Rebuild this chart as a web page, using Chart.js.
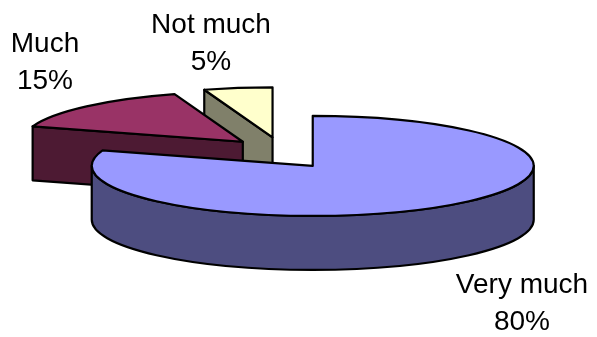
<!DOCTYPE html>
<html>
<head>
<meta charset="utf-8">
<script src="https://cdn.jsdelivr.net/npm/chart.js@4.4.0/dist/chart.umd.min.js"></script>
<style>
  html, body { margin: 0; padding: 0; background: #fff; }
  #pie { display: block; }
</style>
</head>
<body>
<canvas id="pie" width="597" height="337"></canvas>
<script>
// categories + values (percent)
var labels = ["Very much", "Much", "Not much"];
var values = [80, 15, 5];

// colours: top face / side face
var topColors = ["#9999FF", "#993366", "#FFFFCC"];
var sideColors = ["#4D4D80", "#4D1A33", "#80806A"];

// 3d look
var RX = 221, RY = 50, DEPTH = 54;
// where the text of each label sits (center x, first baseline)
var labelPos = [[522, 293], [45, 52], [211, 33]];

function onEllipse(cx, cy, a) {
  return [cx + RX * Math.cos(a), cy + RY * Math.sin(a)];
}

function drawSlice(ctx, s) {
  var cx = s.cx, cy = s.cy;
  // flat side faces (only the ones turned to us)
  [[s.a1, -Math.cos(s.a1)], [s.a2, Math.cos(s.a2)]].forEach(function(f) {
    if (f[1] <= 0.01) return;
    var p = onEllipse(cx, cy, f[0]);
    ctx.beginPath();
    ctx.moveTo(cx, cy);
    ctx.lineTo(p[0], p[1]);
    ctx.lineTo(p[0], p[1] + DEPTH);
    ctx.lineTo(cx, cy + DEPTH);
    ctx.closePath();
    ctx.fillStyle = sideColors[s.i];
    ctx.fill();
    ctx.stroke();
  });
  // round outer side, front half only
  var lo = Math.max(s.a1, 0), hi = Math.min(s.a2, Math.PI);
  if (hi > lo) {
    ctx.beginPath();
    ctx.ellipse(cx, cy, RX, RY, 0, lo, hi, false);
    ctx.ellipse(cx, cy + DEPTH, RX, RY, 0, hi, lo, true);
    ctx.closePath();
    ctx.fillStyle = sideColors[s.i];
    ctx.fill();
    ctx.stroke();
  }
  // top
  ctx.beginPath();
  ctx.moveTo(cx, cy);
  ctx.ellipse(cx, cy, RX, RY, 0, s.a1, s.a2, false);
  ctx.closePath();
  ctx.fillStyle = topColors[s.i];
  ctx.fill();
  ctx.stroke();
}

var pie3d = {
  id: 'pie3d',
  beforeDatasetsDraw: function(chart) {
    var ctx = chart.ctx;
    var meta = chart.getDatasetMeta(0);
    var ex = chart.data.datasets[0].offset;
    var slices = meta.data.map(function(arc, i) {
      var mid = (arc.startAngle + arc.endAngle) / 2;
      return {
        i: i, a1: arc.startAngle, a2: arc.endAngle, mid: mid,
        cx: arc.x + ex * Math.cos(mid),
        cy: arc.y + ex * (RY / RX) * Math.sin(mid) * 1.3
      };
    });
    // back ones first
    slices.sort(function(p, q) { return Math.sin(p.mid) - Math.sin(q.mid); });
    ctx.save();
    ctx.lineWidth = 2.2;
    ctx.strokeStyle = '#000';
    ctx.lineJoin = 'round';
    slices.forEach(function(s) { drawSlice(ctx, s); });
    ctx.restore();
    return false;
  },
  afterDraw: function(chart) {
    var ctx = chart.ctx;
    var total = values.reduce(function(a, b) { return a + b; }, 0);
    ctx.save();
    ctx.fillStyle = '#000';
    ctx.font = '28px "Liberation Sans", Arial, sans-serif';
    ctx.textAlign = 'center';
    ctx.textBaseline = 'alphabetic';
    labels.forEach(function(l, i) {
      var p = labelPos[i];
      ctx.fillText(l, p[0], p[1]);
      ctx.fillText(Math.round(values[i] / total * 100) + '%', p[0], p[1] + 37);
    });
    ctx.restore();
  }
};

var ctx = document.getElementById("pie");
var myChart = new Chart(ctx, {
  type: 'pie',
  data: {
    labels: labels,
    datasets: [{
      data: values,
      backgroundColor: topColors,
      borderColor: '#000',
      borderWidth: 2,
      offset: 54
    }]
  },
  options: {
    responsive: false,
    animation: false,
    layout: { padding: { left: 0, right: 35, top: 0, bottom: 31 } },
    plugins: {
      legend: { display: false },
      tooltip: { enabled: false }
    }
  },
  plugins: [pie3d]
});
</script>
</body>
</html>
